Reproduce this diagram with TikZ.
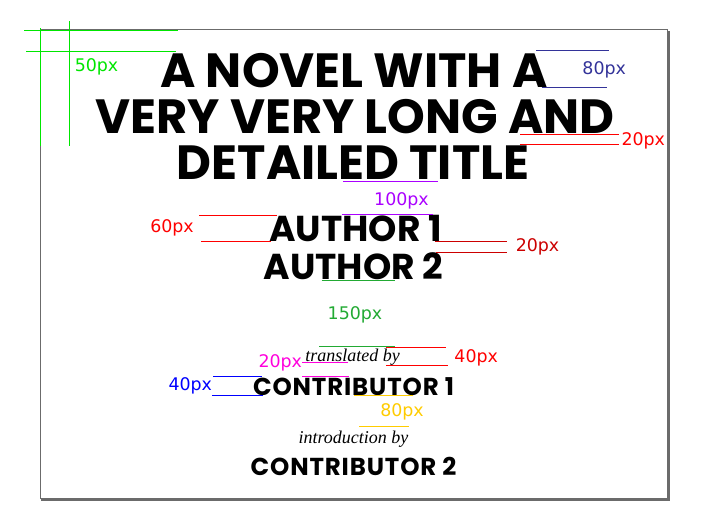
\documentclass[tikz,border=0pt]{standalone}
\usepackage{fontspec}
\newfontfamily\spartan{Poppins}
\newfontfamily\spartanwide{Poppins}[LetterSpace=3.5]
\newfontfamily\notesans{DejaVu Sans}
\newfontfamily\byserif{Liberation Serif}
\definecolor{edgegray}{HTML}{6B6B6B}
\definecolor{mgreen}{HTML}{00E600}
\definecolor{mnavy}{HTML}{333399}
\definecolor{mred}{HTML}{FF0000}
\definecolor{mpurple}{HTML}{AA00FF}
\definecolor{mdarkred}{HTML}{CC0000}
\definecolor{mleaf}{HTML}{22AA33}
\definecolor{mpink}{HTML}{FF00DD}
\definecolor{mblue}{HTML}{0000FF}
\definecolor{myellow}{HTML}{FFCC00}
\tikzset{
  heading/.style={font=\spartan\bfseries\fontsize{48}{48}\selectfont,anchor=base,inner sep=0pt},
  byline/.style={font=\spartan\bfseries\fontsize{36}{36}\selectfont,anchor=base,inner sep=0pt},
  credit/.style={font=\spartanwide\bfseries\fontsize{24.5}{24.5}\selectfont,anchor=base,inner sep=0pt},
  role/.style={font=\byserif\itshape\fontsize{18}{18}\selectfont,anchor=base,inner sep=0pt},
  note/.style={font=\notesans\fontsize{17.4}{17.4}\selectfont,anchor=base,inner sep=0pt},
  guide/.style={line width=1pt}
}
\begin{document}
\begin{tikzpicture}[x=1pt,y=-1pt]
  \useasboundingbox (0,0) rectangle (717,514);
  % page with its shadow
  \fill[edgegray] (41,31) rectangle (670,501);
  \draw[edgegray,fill=white,line width=1pt] (40,29.5) rectangle (667,498);

  % texts of the page
  \node[heading] (t1) at (354,87) {A NOVEL WITH A};
  \node[heading] (t2) at (355,133) {VERY VERY LONG AND};
  \node[heading] (t3) at (353,179) {DETAILED TITLE};
  \node[byline] (a1) at (355.5,241.5) {AUTHOR 1};
  \node[byline] (a2) at (353.5,279) {AUTHOR 2};
  \node[role] (r1) at (352.5,361.7) {translated by};
  \node[credit] (c1) at (353.5,395) {CONTRIBUTOR 1};
  \node[role] (r2) at (353.5,443.3) {introduction by};
  \node[credit] (c2) at (353.5,475.7) {CONTRIBUTOR 2};

  % margin
  \draw[guide,mgreen,line width=1.3pt] (24,30.7) -- (177.7,30.7);
  \draw[guide,mgreen] (26,51.7) -- (175.7,51.7);
  \draw[guide,mgreen,line width=1.3pt] (40.3,28.3) -- (40.3,145.7);
  \draw[guide,mgreen] (69.3,21) -- (69.3,145.7);
  \node[note,text=mgreen] (m50) at (96.5,71.7) {50px};

  % title
  \draw[guide,mnavy] (536,50.7) -- (609,50.7);
  \draw[guide,mnavy] (541.7,87.3) -- (607.3,87.3);
  \node[note,text=mnavy] (m80) at (604.2,74.3) {80px};
  \draw[guide,mred] (520,134.3) -- (619.3,134.3);
  \draw[guide,mred] (520,144.3) -- (619.3,144.3);
  \node[note,text=mred] (m20) at (643.3,145) {20px};

  % authors
  \draw[guide,mpurple] (343,181) -- (438,181);
  \draw[guide,mpurple] (341.7,214) -- (432.7,214);
  \node[note,text=mpurple] (m100) at (401.5,205) {100px};
  \draw[guide,mred] (199,215) -- (276.7,215);
  \draw[guide,mred] (201,241.3) -- (271,241.3);
  \node[note,text=mred] (m60) at (172,232.7) {60px};
  \draw[guide,mdarkred] (435,241.3) -- (506.7,241.3);
  \draw[guide,mdarkred] (436,252) -- (506.7,252);
  \node[note,text=mdarkred] (m20b) at (537.5,251) {20px};

  % contributors
  \draw[guide,mleaf] (321.7,280) -- (395,280);
  \draw[guide,mleaf] (319,346.7) -- (395,346.7);
  \node[note,text=mleaf] (m150) at (355,319.3) {150px};
  \draw[guide,mred] (386,347.3) -- (446,347.3);
  \draw[guide,mred] (386,365.3) -- (447.7,365.3);
  \node[note,text=mred] (m40) at (476.2,362.3) {40px};
  \draw[guide,mpink] (302.3,362.3) -- (348.3,362.3);
  \draw[guide,mpink] (302.3,376.3) -- (349.3,376.3);
  \node[note,text=mpink] (m20c) at (280.3,367.7) {20px};
  \draw[guide,mblue] (213.3,376.3) -- (261.7,376.3);
  \draw[guide,mblue] (212.3,395.3) -- (263.3,395.3);
  \node[note,text=mblue] (m40b) at (190.3,390) {40px};
  \draw[guide,myellow] (354,395.3) -- (413.3,395.3);
  \draw[guide,myellow] (359,426) -- (409.3,426);
  \node[note,text=myellow] (m80b) at (402,416.7) {80px};
\end{tikzpicture}
\end{document}
